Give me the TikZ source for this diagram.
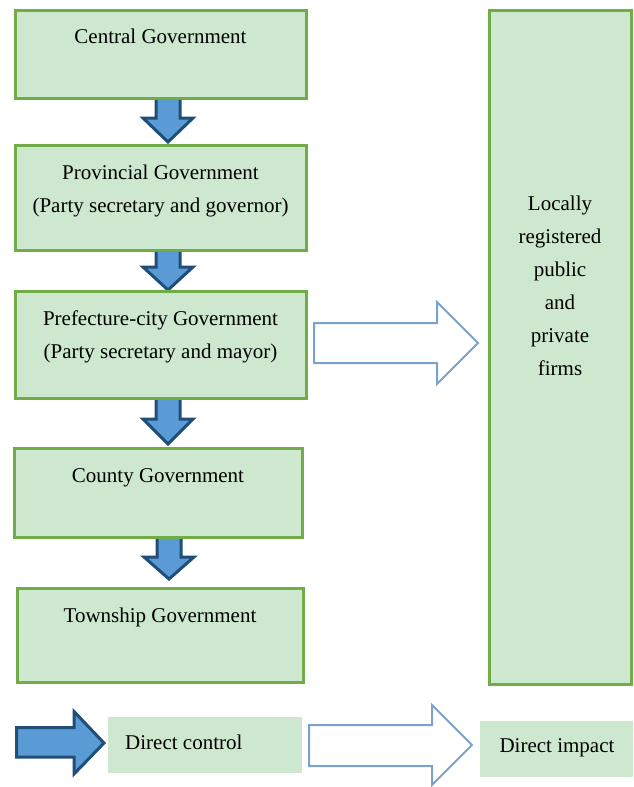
\documentclass[tikz,border=0pt]{standalone}
\usepackage{fontspec}
\setmainfont{Liberation Serif}
\usepackage{xcolor}

\definecolor{boxfill}{RGB}{205,232,207}
\definecolor{boxline}{RGB}{112,173,71}
\definecolor{ctrlfill}{RGB}{91,155,213}
\definecolor{ctrlline}{RGB}{31,78,121}
\definecolor{impline}{RGB}{122,162,204}

\tikzset{
  govbox/.style={draw=boxline, fill=boxfill, line width=3pt},
  ctrlarrow/.style={draw=ctrlline, fill=ctrlfill, line width=3pt},
  imparrow/.style={draw=impline, fill=white, line width=2pt},
  boxtext/.style={inner sep=0pt, align=center, font=\fontsize{21}{33}\selectfont}
}

\begin{document}
\begin{tikzpicture}[x=1pt,y=1pt,yscale=-1,xscale=1]
\path (0,0) rectangle (633,787); %page from 0 to 633 wide, 787 high

%Shape: Down Arrow [id:central-provincial]
\draw [ctrlarrow] (156,97) -- (180,97) -- (180,118) -- (193,118) -- (168,142) -- (143,118) -- (156,118) -- cycle ;
%Shape: Down Arrow [id:provincial-prefecture]
\draw [ctrlarrow] (156,249) -- (180,249) -- (180,267) -- (193,267) -- (168,290) -- (143,267) -- (156,267) -- cycle ;
%Shape: Down Arrow [id:prefecture-county]
\draw [ctrlarrow] (156,398) -- (180,398) -- (180,419) -- (193,419) -- (168,444) -- (143,419) -- (156,419) -- cycle ;
%Shape: Down Arrow [id:county-township]
\draw [ctrlarrow] (157,537) -- (181,537) -- (181,557) -- (194,557) -- (169,579) -- (144,557) -- (157,557) -- cycle ;

%Shape: Rectangle [id:central]
\draw [govbox] (15,10) rectangle (306,98) ;
%Shape: Rectangle [id:provincial]
\draw [govbox] (15,145) rectangle (306,250) ;
%Shape: Rectangle [id:prefecture]
\draw [govbox] (15,291) rectangle (306,398) ;
%Shape: Rectangle [id:county]
\draw [govbox] (14,448) rectangle (302,537) ;
%Shape: Rectangle [id:township]
\draw [govbox] (17,588) rectangle (303,682) ;
%Shape: Rectangle [id:firms]
\draw [govbox] (489,10) rectangle (631,684) ;

%Shape: Right Arrow [id:prefecture-firms]
\draw [imparrow] (314,323) -- (437,323) -- (437,302) -- (478,343) -- (437,384) -- (437,363) -- (314,363) -- cycle ;

%Legend
\draw [ctrlarrow] (16.5,727.5) -- (74,727.5) -- (74,711.5) -- (104,743) -- (74,774) -- (74,757) -- (16.5,757) -- cycle ;
\fill [boxfill] (108,717) rectangle (302,773) ;
\draw [imparrow] (309,725) -- (432,725) -- (432,705) -- (472,745) -- (432,785) -- (432,766) -- (309,766) -- cycle ;
\fill [boxfill] (480,721) rectangle (633,777) ;

% Text Node
\draw (160.5,29) node (central) [boxtext, anchor=north] {Central Government};
% Text Node
\draw (160.5,164.5) node (provincial) [boxtext, anchor=north] {Provincial Government\\(Party secretary and governor)};
% Text Node
\draw (160.5,310.5) node (prefecture) [boxtext, anchor=north] {Prefecture-city Government\\(Party secretary and mayor)};
% Text Node
\draw (158,468.5) node (county) [boxtext, anchor=north] {County Government};
% Text Node
\draw (160,607.5) node (township) [boxtext, anchor=north] {Township Government};
% Text Node
\draw (560,195.5) node (firms) [boxtext, anchor=north] {Locally\\registered\\public\\and\\private\\firms};
% Text Node
\draw (125,749) node (control) [boxtext, anchor=base west] {Direct control};
% Text Node
\draw (557,752) node (impact) [boxtext, anchor=base] {Direct impact};

\end{tikzpicture}
\end{document}
